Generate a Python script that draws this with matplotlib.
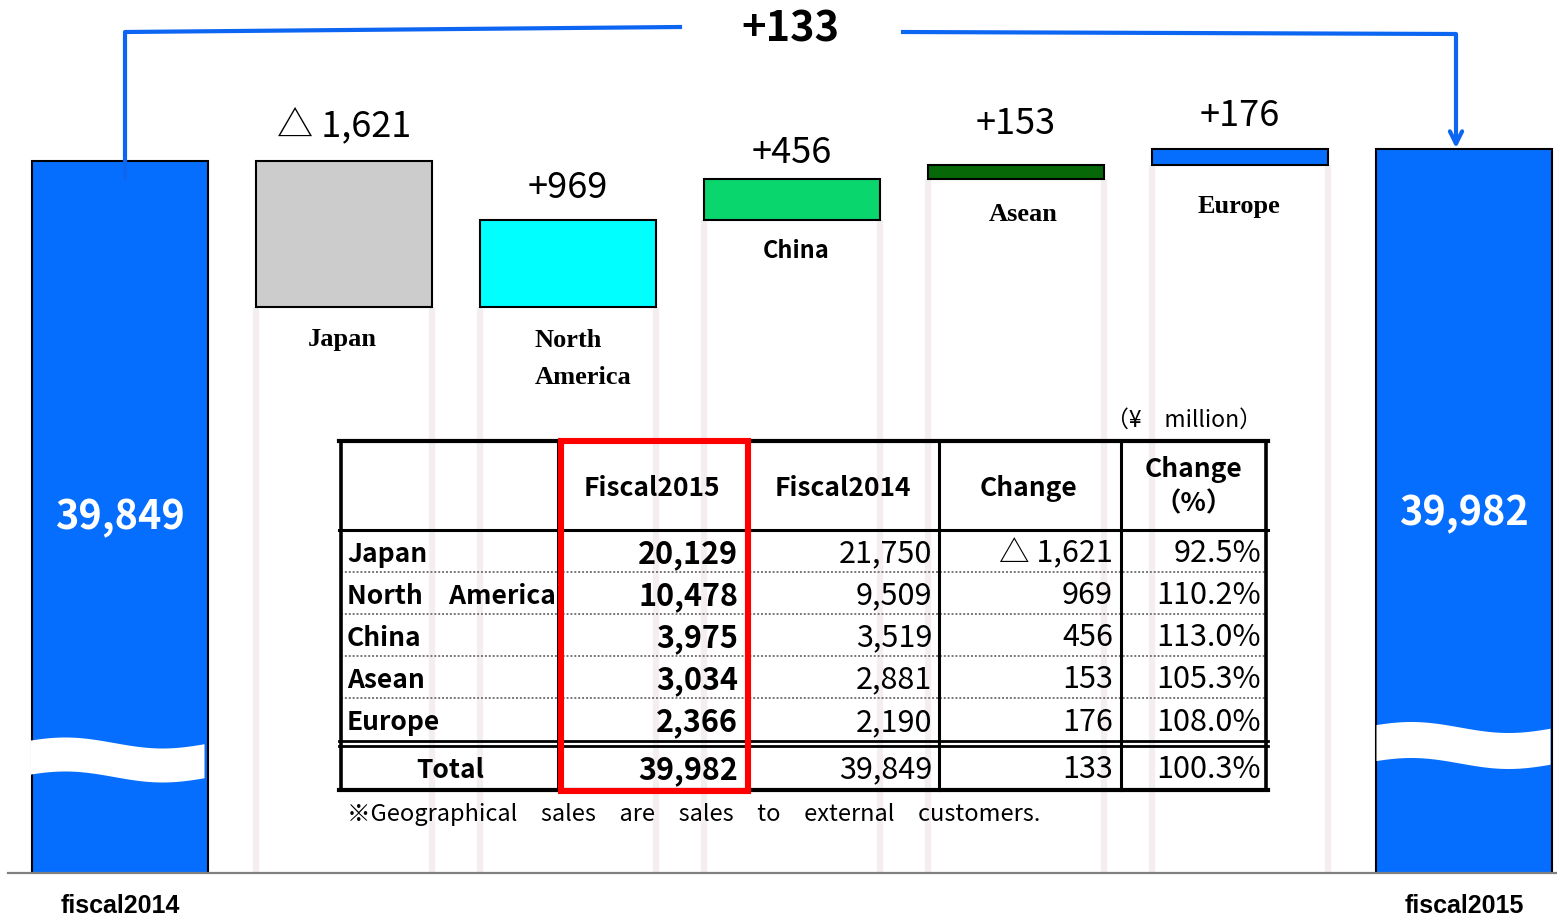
import numpy as np
import matplotlib.pyplot as plt
from matplotlib.patches import Rectangle

plt.rcParams['font.family'] = ['Noto Sans CJK JP', 'DejaVu Sans']

# data
fiscal_prev = 39849
fiscal_curr = 39982
bar_names = ['fiscal2014', 'fiscal2015']
regions = ['Japan', 'North\nAmerica', 'China', 'Asean', 'Europe']
table_regions = ['Japan', 'North\u3000America', 'China', 'Asean', 'Europe']
sales_2015 = [20129, 10478, 3975, 3034, 2366]
sales_2014 = [21750, 9509, 3519, 2881, 2190]
headers = ['Fiscal2015', 'Fiscal2014', 'Change', 'Change\n\uff08%\uff09']

changes = [a - b for a, b in zip(sales_2015, sales_2014)]
total_change = fiscal_curr - fiscal_prev

def fmt_change(v, plus=True):
    if v < 0:
        return '\u25b3 {:,}'.format(-v)
    return ('+' if plus else '') + '{:,}'.format(v)

BLUE = '#066eff'
LINE_BLUE = '#0d66f2'
region_colors = ['#cccccc', '#00ffff', '#0ad66e', '#066806', BLUE]

W, H = 1557, 917
fig = plt.figure(figsize=(W / 100, H / 100), dpi=100)

# waterfall
ax = fig.add_axes([0, 44 / H, 1, 873 / H])
ax.set_xlim(-120 / 224, (W - 120) / 224)
ax.set_ylim(31950, 41640)
ax.axis('off')
bw = 0.785

run = fiscal_prev
bottoms = []
for c in changes:
    bottoms.append(min(run, run + c))
    run += c
bottoms = np.array(bottoms)
heights = np.abs(changes)
xs = np.arange(1, 6)

ax.vlines(np.r_[xs - bw / 2, xs + bw / 2], 31950, np.r_[bottoms, bottoms],
          color='#f5eeee', lw=4.5, zorder=0)
ax.bar([0, 6], [fiscal_prev, fiscal_curr], width=bw, color=BLUE,
       edgecolor='black', linewidth=1.5, zorder=2)
ax.bar(xs, heights, bottom=bottoms, width=bw, color=region_colors,
       edgecolor='black', linewidth=1.5, zorder=2)

val_dy = [17, 14, 8, 23, 15]
for i in range(5):
    ax.annotate(fmt_change(changes[i]), (xs[i], bottoms[i] + heights[i]),
                xytext=(0, val_dy[i]), textcoords='offset pixels',
                ha='center', va='bottom', fontsize=26)

name_dx = [-2, 15, 4, 7, -1]
name_dy = [-21, -22, -19, -24, -30]
for i in range(5):
    if regions[i] == 'China':
        kw = dict(family=['Noto Sans CJK JP'], fontsize=17, fontweight='bold')
    else:
        kw = dict(family=['Liberation Serif'], fontsize=19, fontweight='bold',
                  linespacing=1.75)
    ax.annotate(regions[i], (xs[i], bottoms[i]), xytext=(name_dx[i], name_dy[i]),
                textcoords='offset pixels', ha='center', va='top',
                multialignment='left', **kw)

tr = ax.get_xaxis_transform()
for x, v, yy in [(0, fiscal_prev, 0.407), (6, fiscal_curr, 0.412)]:
    ax.text(x, yy, '{:,}'.format(v), transform=tr, ha='center', va='center',
            color='white', fontsize=28.5, fontweight='bold', zorder=5)
for x, name in zip([0, 6], bar_names):
    ax.text(x, -33 / 873, name, transform=tr, ha='center', va='center',
            family=['Liberation Sans'], fontsize=18, fontweight='bold', clip_on=False)

# overlay in pixel space
ov = fig.add_axes([0, 0, 1, 1], zorder=3)
ov.set_xlim(0, W)
ov.set_ylim(H, 0)
ov.axis('off')

ov.plot([8, W], [873, 873], color='#808080', lw=1.6)

# break marks
t = np.linspace(0, 1, 80)
wave = 5.5 * np.sin(2 * np.pi * (t - 0.2) / 1.12 - np.pi / 2)
ov.fill_between(30 + 174 * t, 742.5 + wave, 776.5 + wave, color='white', lw=0)
ov.fill_between(1376 + 174 * t, 727 + wave, 763 + wave, color='white', lw=0)

# connector
ov.plot([125, 125, 680], [178, 32, 27], color=LINE_BLUE, lw=3)
ov.plot([903, 1456, 1456], [32, 34, 142], color=LINE_BLUE, lw=3)
ov.annotate('', xy=(1456, 151), xytext=(1456, 135),
            arrowprops=dict(arrowstyle='->', color=LINE_BLUE, lw=3,
                            mutation_scale=22))
ov.text(790, 30, fmt_change(total_change), ha='center', va='center',
        fontsize=30, fontweight='bold')

# table
col_x = [341, 558, 748, 939, 1121, 1266]
row_y = [530, 572, 614, 656, 698, 741]
top, bot = 441, 790
ov.plot([339, 1268], [top, top], color='black', lw=3)
ov.plot([339, 1268], [bot, bot], color='black', lw=3)
ov.plot([339, 1268], [530, 530], color='black', lw=2.2)
ov.plot([339, 1268], [741, 741], color='black', lw=2)
ov.plot([339, 1268], [746, 746], color='black', lw=2)
for y in row_y[1:-1]:
    ov.plot([341, 1266], [y, y], color='#777777', lw=1.4, ls=(0, (1, 1)))
for x in col_x:
    ov.plot([x, x], [top, bot], color='black', lw=2.6 if x in (341, 1266) else 2.2)
ov.add_patch(Rectangle((561, 441), 187, 350, fill=False, edgecolor='#ff0000', lw=4.4, zorder=5))

ov.text(1262, 420, '\uff08\u00a5\u3000million\uff09', ha='right', va='center', fontsize=16.5)

centers = [(col_x[i] + col_x[i + 1]) / 2 for i in range(1, 5)]
ov.text(centers[0] - 1, 488, headers[0], ha='center', va='center', fontsize=19, fontweight='bold')
ov.text(centers[1] - 1, 488, headers[1], ha='center', va='center', fontsize=19, fontweight='bold')
ov.text(centers[2] - 1, 488, headers[2], ha='center', va='center', fontsize=19, fontweight='bold')
ov.text(centers[3], 487, headers[3], ha='center', va='center', fontsize=19,
        fontweight='bold', linespacing=1.35)

clip = Rectangle((0, 0), 556, H, transform=ov.transData)
rights = [738, 932, 1113, 1261]
for r in range(5):
    y = (row_y[r] + row_y[r + 1]) / 2 + 3
    lab = ov.text(347, y, table_regions[r], ha='left', va='center', fontsize=19, fontweight='bold')
    lab.set_clip_path(clip)
    pct = sales_2015[r] / sales_2014[r] * 100
    cells = ['{:,}'.format(sales_2015[r]), '{:,}'.format(sales_2014[r]),
             fmt_change(changes[r], plus=False), '{:.1f}%'.format(pct)]
    for j, s in enumerate(cells):
        ov.text(rights[j], y, s, ha='right', va='center', fontsize=22,
                fontweight='bold' if j == 0 else 'normal')

y = 770
ov.text(450, y, 'Total', ha='center', va='center', fontsize=19, fontweight='bold')
tot = ['{:,}'.format(sum(sales_2015)), '{:,}'.format(sum(sales_2014)),
       fmt_change(sum(sales_2015) - sum(sales_2014), plus=False),
       '{:.1f}%'.format(sum(sales_2015) / sum(sales_2014) * 100)]
for j, s in enumerate(tot):
    ov.text(rights[j], y, s, ha='right', va='center', fontsize=22,
            fontweight='bold' if j == 0 else 'normal')

ov.text(347, 814, '\u203bGeographical\u3000sales\u3000are\u3000sales\u3000to\u3000external\u3000customers.',
        ha='left', va='center', fontsize=17)

fig.savefig('out.png', dpi=100)
